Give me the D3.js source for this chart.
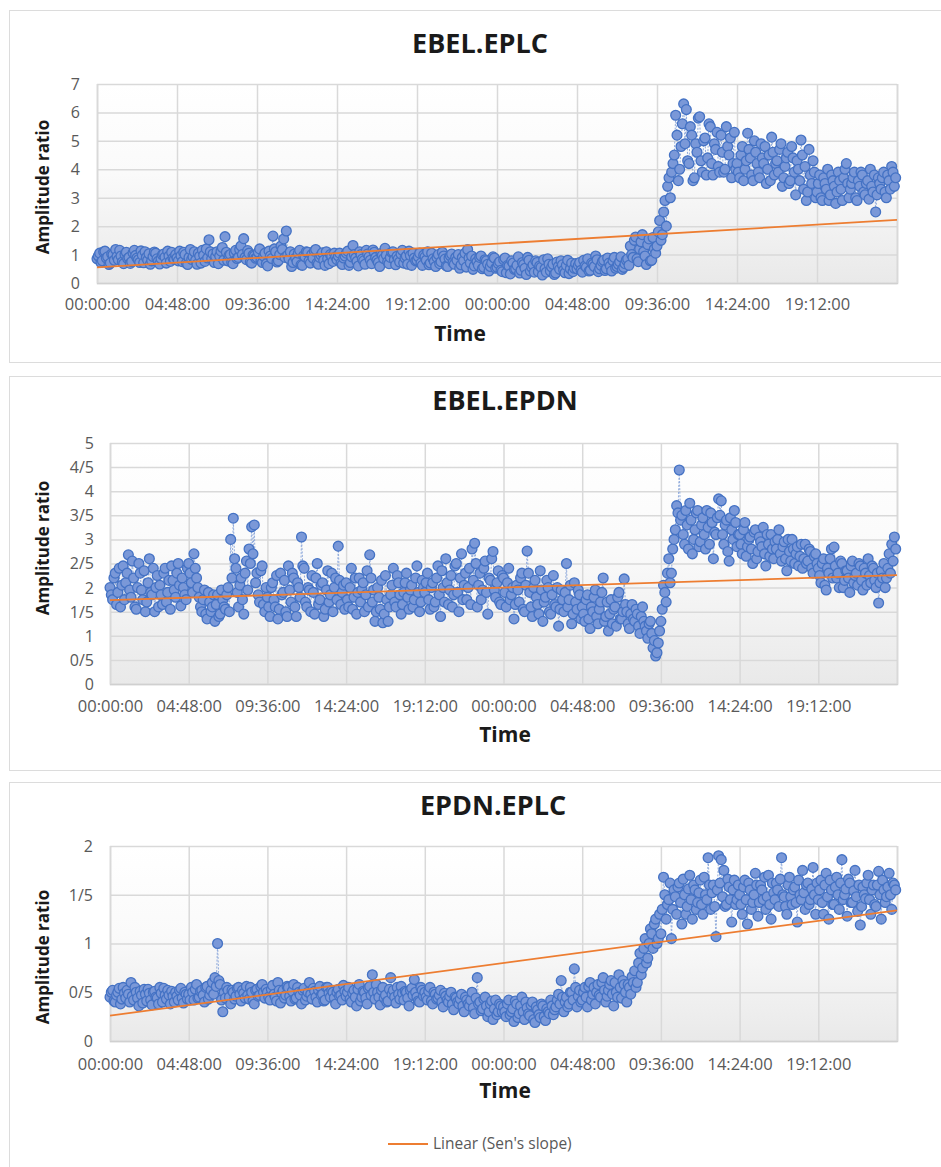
<!DOCTYPE html>
<html>
<head>
<meta charset="utf-8">
<script src="https://cdn.jsdelivr.net/npm/d3@7"></script>
<style>
  body { margin: 0; background: #fff; }
  text { font-family: "Open Sans", sans-serif; }
</style>
</head>
<body>
<script>
// x axis labels (every 4.8 h over two days)
const timeLabels = ["00:00:00", "04:48:00", "09:36:00", "14:24:00", "19:12:00",
                    "00:00:00", "04:48:00", "09:36:00", "14:24:00", "19:12:00"];

// amplitude ratios, one sample every 9.6 min (30 per 4.8 h grid cell)
const ebelEplc = [
  0.85,1.05,0.78,1.12,0.92,0.7,1.0,1.18,0.82,0.95,0.68,1.08,0.9,0.75,1.15,0.88,0.72,0.98,1.1,0.8,0.66,0.93,1.05,0.77,0.86,1.02,0.7,0.95,1.08,0.83,
  0.88,1.12,0.75,1.0,0.65,1.18,0.92,0.8,1.05,0.7,0.98,1.2,1.52,0.85,0.72,1.1,0.95,1.25,1.63,0.78,1.0,0.68,1.15,0.9,1.3,1.56,0.82,1.05,0.7,0.95,
  0.9,1.2,0.72,1.05,0.6,0.95,1.65,1.1,0.78,1.3,1.55,1.83,0.85,0.58,1.02,0.75,1.15,0.62,0.92,1.08,0.7,0.88,1.18,0.66,0.98,0.8,1.1,0.68,0.94,1.05,
  0.82,1.05,0.65,0.95,1.12,0.72,1.32,0.88,0.6,1.0,0.78,1.15,0.92,0.68,1.08,0.8,0.58,0.98,1.22,0.75,0.9,1.1,0.64,0.85,1.02,0.7,0.95,1.12,0.62,0.88,
  0.8,1.05,0.62,0.92,1.1,0.7,0.85,0.58,1.0,0.75,0.95,0.6,0.88,1.02,0.66,0.8,0.52,0.9,1.05,1.18,0.7,0.48,0.85,0.62,0.95,0.55,0.78,0.42,0.7,0.88,
  0.55,0.75,0.4,0.88,0.62,0.32,0.7,0.5,0.92,0.45,0.65,0.3,0.8,0.55,0.38,0.72,0.6,0.28,0.5,0.85,0.42,0.66,0.35,0.58,0.78,0.45,0.62,0.33,0.7,0.52,
  0.5,0.72,0.38,0.6,0.85,0.45,0.66,0.95,0.4,0.62,0.8,0.5,0.7,0.42,0.9,0.58,0.75,0.48,0.68,0.85,1.3,0.9,1.62,0.75,1.45,1.1,0.65,1.55,0.8,1.2,
  1.3,2.2,1.7,2.9,3.4,3.0,4.2,5.9,3.6,4.8,6.3,6.1,4.2,5.2,3.7,4.6,5.85,3.9,5.1,4.4,5.5,3.8,4.7,4.1,5.2,3.9,5.5,4.5,3.7,5.3,
  4.2,3.7,4.8,4.0,5.27,4.4,3.6,4.6,3.9,4.9,4.2,3.5,4.5,5.13,3.8,4.3,4.7,3.4,4.1,4.6,3.6,4.4,3.1,4.0,5.03,3.3,2.9,4.7,3.5,3.9,
  3.2,3.8,2.9,3.5,4.0,3.1,3.6,2.8,3.9,3.3,3.7,4.2,3.0,3.5,3.9,2.9,3.4,3.8,3.1,3.6,4.0,3.2,2.5,3.7,3.3,3.9,3.0,3.6,4.1,3.4
];
// samples taken half a step later (4.8 min offset)
const ebelEplcMid = [
  0.95,0.72,1.1,0.88,0.65,1.02,0.8,0.93,1.15,0.74,1.0,0.86,0.69,1.06,0.97,0.82,1.13,0.71,0.9,1.03,0.78,1.09,0.85,0.67,0.99,0.91,1.12,0.76,0.87,1.0,
  0.78,0.96,1.08,0.7,0.9,0.83,1.1,0.66,0.94,1.15,0.76,0.88,1.1,1.02,0.93,0.68,1.12,0.8,1.08,0.97,0.73,1.05,0.86,1.18,1.0,0.9,1.14,0.74,0.98,0.87,
  1.08,0.8,0.95,0.68,1.12,0.86,1.2,0.74,1.0,1.18,0.9,0.98,1.1,0.72,0.88,1.05,0.64,0.96,1.1,0.78,1.0,1.12,0.7,0.9,1.06,0.62,0.85,1.0,0.76,0.92,
  0.95,0.7,0.88,1.05,0.62,0.92,1.0,0.76,1.1,0.84,0.66,1.02,0.8,1.16,0.9,0.72,1.04,0.86,0.98,0.68,1.08,0.82,0.94,0.74,1.15,0.88,0.66,0.97,1.05,0.78,
  0.92,0.7,0.98,0.8,0.64,1.05,0.76,0.9,0.68,1.08,0.84,0.58,0.96,0.72,0.9,1.0,0.64,0.78,0.56,0.88,0.95,0.6,0.75,0.9,0.5,0.82,0.66,0.58,0.92,0.52,
  0.68,0.45,0.82,0.36,0.6,0.78,0.48,0.62,0.35,0.72,0.52,0.9,0.42,0.64,0.78,0.4,0.55,0.82,0.38,0.66,0.56,0.3,0.74,0.48,0.64,0.36,0.8,0.5,0.4,0.68,
  0.62,0.45,0.8,0.55,0.42,0.7,0.58,0.82,0.5,0.75,0.44,0.88,0.6,0.78,0.52,0.66,0.92,0.55,0.8,0.62,1.0,1.5,0.85,1.2,1.7,0.95,1.35,0.78,1.6,1.05,
  1.8,1.5,2.5,2.0,3.7,3.9,4.5,5.2,4.0,5.6,4.9,4.3,5.5,3.6,4.9,5.8,4.3,5.0,3.8,5.6,4.2,4.9,5.3,3.9,4.6,4.0,4.8,5.1,4.2,4.0,
  3.9,4.5,3.6,4.3,4.7,3.8,5.0,4.2,3.7,4.4,4.8,4.0,3.6,4.6,4.2,3.9,4.9,3.7,4.4,3.5,4.8,3.9,4.3,3.6,4.5,4.1,3.2,3.8,4.3,3.0,
  3.5,3.0,3.7,3.3,2.9,3.8,3.4,3.2,3.6,2.9,4.0,3.5,3.3,3.7,3.0,3.6,3.9,3.2,3.5,2.95,3.4,3.8,3.1,3.5,3.7,3.2,3.8,3.3,3.9,3.7
];

const ebelEpdn = [
  2.0,1.75,2.3,1.9,1.6,2.45,2.1,2.68,1.8,2.2,1.55,2.5,1.95,2.35,1.7,2.6,1.85,1.5,2.25,2.05,1.65,2.4,1.9,1.55,2.15,1.8,2.5,1.62,2.0,1.75,
  2.5,2.1,2.7,2.2,1.8,1.5,1.95,1.35,1.7,1.6,1.3,1.85,1.45,1.75,1.55,2.0,3.0,3.44,2.4,1.6,2.2,1.45,2.55,2.8,3.26,3.3,2.3,1.7,2.45,1.5,
  1.8,1.4,2.1,1.6,1.35,2.3,1.9,1.5,2.45,1.7,2.2,1.4,2.0,3.05,2.4,1.6,1.95,2.25,1.45,2.5,1.75,2.1,1.55,2.35,1.85,1.5,2.2,2.86,1.65,2.05,
  2.1,1.6,2.4,1.8,1.45,2.2,1.95,1.5,2.35,2.68,1.7,1.3,2.0,1.55,1.27,2.25,1.3,1.85,2.4,1.6,2.1,1.45,1.9,2.3,1.55,2.05,1.75,2.45,1.5,2.15,
  1.9,2.3,1.55,2.1,1.7,2.45,1.4,2.0,2.6,1.65,2.25,1.85,2.5,1.5,2.7,2.05,1.75,2.4,2.8,2.92,1.6,2.3,1.95,2.55,1.45,2.15,2.75,1.8,2.35,1.65,
  2.2,1.6,2.4,1.85,1.35,2.05,1.7,2.3,1.5,2.76,1.9,1.4,2.15,1.65,2.35,1.3,1.8,2.0,1.45,2.25,1.6,1.2,1.95,1.5,2.5,1.75,1.25,2.1,1.55,1.85,
  1.6,1.3,1.85,1.15,1.5,1.95,1.25,1.7,2.2,1.4,1.1,1.75,1.55,1.2,1.9,1.35,2.18,1.5,1.15,1.65,1.3,1.45,1.05,1.6,1.2,0.95,1.3,0.75,0.58,0.85,
  1.3,2.05,1.7,2.6,2.3,3.0,3.7,4.44,3.5,2.9,3.3,3.75,2.7,3.2,3.6,2.95,3.45,2.8,3.25,3.55,2.6,3.1,3.84,3.8,2.9,3.4,2.55,3.2,3.6,2.85,
  3.1,2.7,3.35,2.85,3.05,2.5,3.2,2.75,2.95,3.25,2.45,2.9,3.1,2.6,2.8,3.2,2.55,2.95,2.35,2.75,3.0,2.5,2.85,2.65,2.4,2.9,2.55,2.75,2.3,2.7,
  2.4,2.1,2.6,1.95,2.3,2.8,2.84,2.2,2.0,2.5,2.15,2.35,1.9,2.55,2.25,2.05,2.45,1.95,2.3,2.6,2.1,2.4,2.0,1.68,2.35,2.5,2.2,2.7,2.9,3.05
];
const ebelEpdnMid = [
  1.85,2.2,1.65,2.4,2.05,1.75,2.3,1.95,2.55,1.6,2.0,2.3,1.75,1.5,2.1,1.9,2.4,2.0,1.6,1.85,2.3,1.7,2.15,2.45,1.95,2.3,2.05,2.2,1.85,2.4,
  2.3,1.9,2.4,2.0,1.6,1.75,1.45,1.9,1.5,1.85,1.65,1.4,1.95,1.6,1.85,1.5,2.2,2.6,1.9,2.05,1.75,2.3,1.95,2.5,2.7,2.1,1.85,2.35,1.65,2.0,
  1.6,2.0,1.75,2.25,1.55,1.85,2.15,1.4,1.95,2.3,1.6,2.1,1.8,2.45,1.7,2.0,1.5,1.9,2.2,1.65,2.05,1.4,1.95,1.7,2.3,2.0,1.75,2.15,1.9,1.55,
  1.75,2.0,1.55,2.2,1.9,1.7,2.1,1.85,1.6,2.2,1.95,1.5,1.8,2.15,1.45,1.75,1.6,2.05,1.7,2.25,1.85,1.65,2.1,1.8,1.95,1.6,2.2,1.9,1.7,2.0,
  2.1,1.75,2.0,1.6,2.2,1.85,2.35,1.7,2.1,1.95,1.6,2.45,1.9,2.2,1.75,2.3,2.0,1.65,2.15,2.5,2.05,1.75,2.4,1.9,2.2,2.6,1.95,2.1,1.7,2.25,
  1.9,2.1,1.75,2.0,1.65,1.95,2.2,1.55,2.05,2.3,1.6,2.0,1.8,1.45,1.95,1.7,2.15,1.5,1.85,1.65,2.0,1.55,1.75,1.9,1.6,2.05,1.45,1.7,1.95,1.35,
  1.45,1.75,1.35,1.6,1.8,1.4,1.55,1.9,1.3,1.7,1.45,1.25,1.6,1.8,1.35,1.5,1.65,1.25,1.45,1.35,1.55,1.2,1.4,1.3,1.1,1.25,1.05,0.9,0.65,1.1,
  1.55,1.9,2.3,2.1,2.8,3.2,3.55,3.4,3.1,3.6,2.8,3.4,3.0,3.55,2.85,3.3,3.1,3.6,2.9,3.35,3.15,3.45,3.5,3.1,3.3,2.75,3.45,3.0,3.35,3.1,
  2.9,3.2,2.65,3.0,2.8,3.15,2.6,3.05,2.85,2.7,3.1,2.65,2.8,2.95,3.0,2.7,2.85,2.6,3.0,2.55,2.8,2.7,2.45,2.9,2.6,2.5,2.8,2.4,2.65,2.5,
  2.25,2.5,2.05,2.4,2.6,2.2,2.45,2.3,2.55,2.0,2.35,2.2,2.45,2.1,2.3,2.5,2.15,2.4,2.05,2.25,2.45,2.15,2.3,2.1,2.2,2.0,2.4,2.3,2.55,2.8
];

const epdnEplc = [
  0.45,0.52,0.4,0.5,0.38,0.55,0.44,0.48,0.6,0.42,0.5,0.36,0.47,0.53,0.41,0.49,0.37,0.51,0.44,0.55,0.4,0.47,0.52,0.38,0.46,0.5,0.42,0.54,0.39,0.48,
  0.48,0.55,0.42,0.58,0.45,0.52,0.4,0.56,0.47,0.6,0.65,1.0,0.58,0.3,0.44,0.52,0.38,0.5,0.46,0.55,0.41,0.49,0.56,0.43,0.5,0.38,0.53,0.47,0.58,0.44,
  0.5,0.42,0.57,0.45,0.6,0.39,0.52,0.47,0.55,0.41,0.58,0.44,0.5,0.38,0.54,0.46,0.6,0.43,0.51,0.4,0.56,0.48,0.42,0.55,0.45,0.5,0.38,0.53,0.47,0.57,
  0.46,0.55,0.4,0.52,0.36,0.58,0.45,0.5,0.38,0.56,0.68,0.43,0.5,0.37,0.55,0.47,0.41,0.65,0.52,0.39,0.48,0.56,0.42,0.5,0.36,0.54,0.63,0.45,0.4,0.52,
  0.5,0.42,0.55,0.38,0.48,0.44,0.52,0.35,0.46,0.4,0.5,0.32,0.44,0.38,0.48,0.3,0.42,0.36,0.5,0.28,0.65,0.4,0.33,0.45,0.25,0.38,0.22,0.42,0.3,0.36,
  0.35,0.25,0.42,0.3,0.2,0.38,0.28,0.45,0.22,0.34,0.26,0.4,0.19,0.32,0.24,0.36,0.21,0.3,0.42,0.27,0.35,0.48,0.62,0.3,0.45,0.38,0.5,0.74,0.35,0.52,
  0.42,0.55,0.35,0.6,0.48,0.38,0.58,0.45,0.65,0.4,0.52,0.62,0.36,0.5,0.68,0.44,0.58,0.4,0.55,0.66,0.72,0.6,0.9,0.75,1.05,0.85,1.15,0.95,1.25,1.05,
  1.1,1.68,1.25,1.45,1.05,1.55,1.3,1.62,1.2,1.5,1.38,1.7,1.25,1.55,1.42,1.65,1.3,1.5,1.88,1.35,1.6,1.07,1.9,1.86,1.75,1.4,1.58,1.22,1.65,1.45,
  1.5,1.3,1.65,1.2,1.55,1.42,1.72,1.28,1.6,1.45,1.35,1.7,1.25,1.52,1.62,1.38,1.88,1.48,1.3,1.68,1.4,1.58,1.22,1.5,1.75,1.35,1.62,1.45,1.78,1.3,
  1.45,1.65,1.3,1.72,1.25,1.55,1.4,1.68,1.35,1.86,1.5,1.28,1.62,1.42,1.75,1.33,1.19,1.58,1.46,1.7,1.3,1.6,1.38,1.74,1.25,1.55,1.48,1.72,1.35,1.6
];
const epdnEplcMid = [
  0.5,0.41,0.47,0.54,0.43,0.49,0.52,0.4,0.46,0.55,0.44,0.51,0.39,0.48,0.53,0.42,0.5,0.45,0.38,0.49,0.54,0.43,0.47,0.51,0.4,0.46,0.52,0.44,0.5,0.43,
  0.42,0.5,0.53,0.44,0.51,0.47,0.55,0.43,0.52,0.48,0.56,0.62,0.42,0.5,0.55,0.45,0.52,0.43,0.54,0.48,0.52,0.44,0.47,0.55,0.41,0.52,0.46,0.56,0.5,0.53,
  0.45,0.53,0.48,0.41,0.52,0.49,0.44,0.56,0.46,0.51,0.43,0.55,0.47,0.52,0.42,0.5,0.48,0.54,0.45,0.52,0.47,0.41,0.55,0.49,0.52,0.44,0.5,0.46,0.42,0.51,
  0.5,0.43,0.49,0.45,0.53,0.41,0.51,0.44,0.54,0.47,0.5,0.58,0.45,0.52,0.44,0.4,0.53,0.48,0.45,0.55,0.43,0.49,0.51,0.44,0.52,0.47,0.5,0.41,0.55,0.46,
  0.45,0.51,0.41,0.5,0.43,0.47,0.4,0.49,0.42,0.46,0.38,0.45,0.4,0.43,0.36,0.45,0.38,0.42,0.34,0.44,0.38,0.31,0.43,0.36,0.3,0.41,0.33,0.27,0.38,0.3,
  0.3,0.38,0.27,0.33,0.41,0.24,0.36,0.3,0.4,0.28,0.37,0.22,0.35,0.27,0.38,0.25,0.33,0.28,0.36,0.32,0.42,0.38,0.45,0.4,0.35,0.5,0.42,0.55,0.46,0.4,
  0.5,0.45,0.56,0.42,0.55,0.5,0.47,0.6,0.52,0.46,0.58,0.48,0.6,0.45,0.55,0.62,0.5,0.58,0.48,0.6,0.55,0.8,0.68,0.95,0.8,1.0,1.1,1.2,1.0,1.3,
  1.35,1.5,1.4,1.62,1.35,1.48,1.58,1.42,1.66,1.3,1.56,1.45,1.6,1.35,1.52,1.4,1.68,1.45,1.6,1.52,1.38,1.55,1.62,1.48,1.38,1.66,1.45,1.55,1.4,1.6,
  1.4,1.58,1.45,1.62,1.35,1.5,1.6,1.42,1.55,1.68,1.48,1.4,1.62,1.45,1.55,1.66,1.5,1.38,1.6,1.48,1.55,1.42,1.65,1.45,1.52,1.6,1.4,1.56,1.5,1.62,
  1.55,1.42,1.6,1.48,1.65,1.4,1.58,1.5,1.62,1.45,1.56,1.66,1.42,1.54,1.48,1.6,1.38,1.5,1.62,1.45,1.55,1.4,1.6,1.5,1.65,1.42,1.58,1.5,1.62,1.55
];

// Sen's slope trend lines: value at start and end of the 48 h window
const ebelEplcTrend = [0.55, 2.22];
const ebelEpdnTrend = [1.74, 2.26];
const epdnEplcTrend = [0.26, 1.34];

const totalHours = 48, tickStep = 4.8;
const sampleStep = totalHours / ebelEplc.length;

// merge the two sample sets in time order
function series(main, mid) {
  const out = [];
  main.forEach(function(v, i) {
    out.push({ t: i * sampleStep, v: v });
    out.push({ t: (i + 0.5) * sampleStep, v: mid[i] });
  });
  return out;
}

const W = 941, H = 1167;
const svg = d3.select("body").append("svg")
  .attr("width", W).attr("height", H);

const grad = svg.append("defs").append("linearGradient")
  .attr("id", "plotbg").attr("x1", 0).attr("y1", 0).attr("x2", 0).attr("y2", 1);
grad.append("stop").attr("offset", "0%").attr("stop-color", "#ffffff");
grad.append("stop").attr("offset", "45%").attr("stop-color", "#fafafa");
grad.append("stop").attr("offset", "100%").attr("stop-color", "#e9e9e9");

const panels = [
  { title: "EBEL.EPLC", pts: series(ebelEplc, ebelEplcMid), trend: ebelEplcTrend, yMax: 7, yStep: 1,
    frame: [9, 10, 362], x0: 97, x1: 897, y0: 84, y1: 283,
    titleX: 480, titleY: 53, timeX: 460, timeY: 341, ylabY: 187, tickY: 310, ytx: 80 },
  { title: "EBEL.EPDN", pts: series(ebelEpdn, ebelEpdnMid), trend: ebelEpdnTrend, yMax: 5, yStep: 0.5,
    frame: [9, 376, 770], x0: 110, x1: 897, y0: 443, y1: 684,
    titleX: 505, titleY: 410, timeX: 505, timeY: 742, ylabY: 548, tickY: 712, ytx: 94 },
  { title: "EPDN.EPLC", pts: series(epdnEplc, epdnEplcMid), trend: epdnEplcTrend, yMax: 2, yStep: 0.5,
    frame: [9, 782, 1200], x0: 110, x1: 897, y0: 846, y1: 1041,
    titleX: 493, titleY: 815, timeX: 505, timeY: 1098, ylabY: 957, tickY: 1070, ytx: 93 }
];

const fmtY = d => String(+d.toFixed(1)).replace(".", "/");

panels.forEach(function(p) {
  // chart frame
  svg.append("rect")
    .attr("x", p.frame[0] + 0.5).attr("y", p.frame[1] + 0.5)
    .attr("width", W + 20).attr("height", p.frame[2] - p.frame[1])
    .attr("fill", "none").attr("stroke", "#dcdcdc");

  const x = d3.scaleLinear().domain([0, totalHours]).range([p.x0, p.x1]);
  const y = d3.scaleLinear().domain([0, p.yMax]).range([p.y1, p.y0]);

  svg.append("rect")
    .attr("x", p.x0).attr("y", p.y0)
    .attr("width", p.x1 - p.x0).attr("height", p.y1 - p.y0)
    .attr("fill", "url(#plotbg)");

  // grid
  const yTicks = d3.range(0, p.yMax + 0.001, p.yStep);
  const xTicks = d3.range(0, totalHours + 0.001, tickStep);

  const gy = svg.append("g")
    .attr("transform", "translate(" + p.x0 + ",0)")
    .call(d3.axisLeft(y).tickValues(yTicks).tickSize(-(p.x1 - p.x0)).tickFormat(fmtY));
  gy.select(".domain").remove();
  gy.selectAll("line").attr("stroke", "#d9d9d9").attr("stroke-width", 1.5);
  gy.selectAll("text")
    .attr("x", p.ytx - p.x0).attr("dy", "0.34em")
    .attr("fill", "#595959").style("font-size", "16px").style("font-family", "Open Sans, sans-serif");

  const gx = svg.append("g")
    .attr("transform", "translate(0," + p.y1 + ")")
    .call(d3.axisBottom(x).tickValues(xTicks).tickSize(-(p.y1 - p.y0))
      .tickFormat((d, i) => timeLabels[i] || ""));
  gx.select(".domain").attr("stroke", "#d0d0d0").attr("stroke-width", 1.5);
  gx.selectAll("line").attr("stroke", "#d9d9d9").attr("stroke-width", 1.5);
  gx.selectAll("text")
    .attr("y", p.tickY - p.y1).attr("dy", null)
    .attr("fill", "#595959").style("font-size", "16.5px").style("font-family", "Open Sans, sans-serif");

  // series: thin dotted connector then markers
  svg.append("path")
    .datum(p.pts)
    .attr("fill", "none")
    .attr("stroke", "#8faadc")
    .attr("stroke-width", 1)
    .attr("stroke-dasharray", "2,1.5")
    .attr("d", d3.line().x(d => x(d.t)).y(d => y(d.v)));

  svg.append("g").selectAll("circle")
    .data(p.pts).join("circle")
    .attr("cx", d => x(d.t)).attr("cy", d => y(d.v))
    .attr("r", 4.9)
    .attr("fill", "#7a98d8")
    .attr("stroke", "#4472c4")
    .attr("stroke-width", 1.3);

  // Sen's slope
  svg.append("path")
    .datum([{ t: 0, v: p.trend[0] }, { t: totalHours, v: p.trend[1] }])
    .attr("fill", "none")
    .attr("stroke", "#ed7d31")
    .attr("stroke-width", 1.8)
    .attr("d", d3.line().x(d => x(d.t)).y(d => y(d.v)));

  // titles
  svg.append("text")
    .attr("x", p.titleX).attr("y", p.titleY)
    .attr("text-anchor", "middle")
    .style("font-size", "27px").style("font-weight", "bold").attr("fill", "#1a1a1a")
    .text(p.title);

  svg.append("text")
    .attr("x", p.timeX).attr("y", p.timeY)
    .attr("text-anchor", "middle")
    .style("font-size", "21px").style("font-weight", "bold").attr("fill", "#1a1a1a")
    .text("Time");

  svg.append("text")
    .attr("transform", "translate(49," + p.ylabY + ") rotate(-90)")
    .attr("text-anchor", "middle")
    .style("font-size", "17px").style("font-weight", "bold").attr("fill", "#1a1a1a")
    .text("Amplitude ratio");
});

// legend
svg.append("line")
  .attr("x1", 388).attr("x2", 428).attr("y1", 1144).attr("y2", 1144)
  .attr("stroke", "#ed7d31").attr("stroke-width", 2);
svg.append("text")
  .attr("x", 433).attr("y", 1149)
  .style("font-size", "15.5px").attr("fill", "#595959")
  .text("Linear (Sen's slope)");
</script>
</body>
</html>
